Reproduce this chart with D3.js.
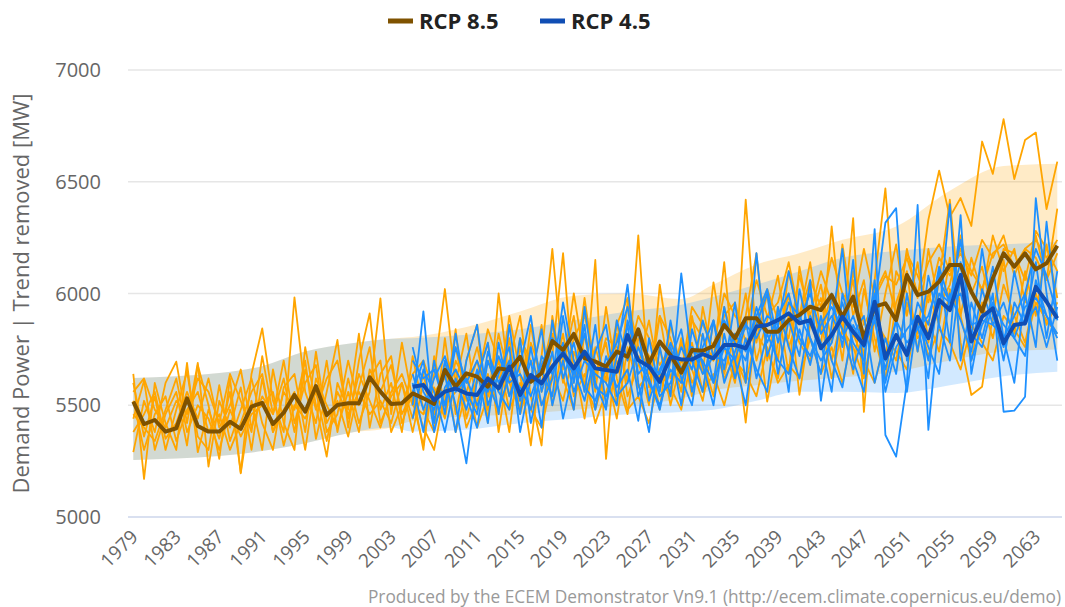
<!DOCTYPE html>
<html>
<head>
<meta charset="utf-8">
<script src="https://cdnjs.cloudflare.com/ajax/libs/d3/7.8.5/d3.min.js"></script>
<style>
  html, body { margin: 0; padding: 0; background: #fff; }
  #chart-area { width: 1065px; height: 607px; }
</style>
</head>
<body>
<div id="chart-area"></div>
<script>
const firstYear = 1979;
const lastYear = 2065;
const scenarioStart = 2005;

// ensemble mean, RCP 8.5 (historical part shared), 1979..2065
const meanRcp85 = [
  5516, 5416, 5434, 5382, 5397, 5531, 5407, 5382, 5382, 5426,
  5394, 5494, 5511, 5416, 5467, 5546, 5471, 5586, 5456, 5501,
  5509, 5509, 5625, 5561, 5506, 5509, 5553, 5531, 5506, 5658,
  5583, 5643, 5628, 5583, 5665, 5658, 5717, 5605, 5643, 5787,
  5747, 5819, 5711, 5695, 5673, 5740, 5717, 5840, 5687, 5785,
  5725, 5646, 5747, 5744, 5765, 5859, 5800, 5889, 5889, 5829,
  5829, 5881, 5904, 5941, 5926, 5993, 5896, 5986, 5800, 5941,
  5956, 5881, 6083, 5993, 6008, 6053, 6128, 6128, 6008, 5919,
  6068, 6180, 6120, 6180, 6108, 6135, 6214
];

// ensemble mean, RCP 4.5, 2005..2065
const meanRcp45 = [
  5583, 5591, 5523, 5561, 5575, 5553, 5546, 5620, 5576, 5673,
  5546, 5635, 5598, 5673, 5732, 5665, 5740, 5665, 5658, 5650,
  5814, 5702, 5673, 5605, 5717, 5705, 5705, 5729, 5710, 5770,
  5770, 5755, 5852, 5859, 5881, 5911, 5867, 5881, 5755, 5814,
  5896, 5829, 5770, 5963, 5710, 5814, 5725, 5896, 5800, 5971,
  5926, 6083, 5785, 5896, 5934, 5777, 5859, 5867, 6030, 5963,
  5889
];

// spread bands, sampled years
const bandYears   = [1979, 1983, 1987, 1991, 1995, 1999, 2003, 2005, 2010, 2015, 2020, 2025, 2030, 2033, 2037, 2041, 2045, 2050, 2055, 2060, 2065];
const rcp85Low    = [5255, 5262, 5273, 5295, 5330, 5375, 5400, 5430, 5450, 5460, 5480, 5500, 5530, 5568, 5590, 5610, 5625, 5650, 5700, 5740, 5750];
const rcp85High   = [5622, 5630, 5644, 5675, 5740, 5775, 5798, 5805, 5850, 5920, 5990, 6000, 5975, 6040, 6130, 6180, 6240, 6300, 6460, 6570, 6580];
const rcp45Low    = [5255, 5262, 5273, 5295, 5330, 5375, 5400, 5382, 5390, 5420, 5440, 5460, 5470, 5480, 5520, 5560, 5560, 5555, 5590, 5630, 5650];
const rcp45High   = [5622, 5630, 5644, 5675, 5740, 5775, 5798, 5800, 5815, 5840, 5880, 5920, 5950, 5986, 6040, 6100, 6160, 6190, 6210, 6220, 6230];

// ensemble members, historical + RCP 8.5, 1979..2065
const membersRcp85 = [
  [5640, 5170, 5600, 5420, 5300, 5690, 5290, 5480, 5350, 5560,
   5200, 5640, 5844, 5520, 5380, 5983, 5560, 5420, 5700, 5380,
   5620, 5420, 5560, 5978, 5460, 5780, 5520, 5320, 5640, 6020,
   5600, 5820, 5480, 5700, 5560, 5900, 5640, 5320, 5720, 6200,
   5680, 5900, 5560, 6150, 5260, 5820, 5600, 6260, 5580, 5900,
   5620, 5780, 5540, 5940, 5700, 6140, 5620, 6420, 5780, 6000,
   5700, 6100, 5880, 6020, 5760, 6300, 5820, 6337, 5470, 6060,
   6470, 5860, 6200, 5980, 6330, 6550, 6343, 6427, 6302, 6680,
   6535, 6780, 6512, 6687, 6720, 6378, 6590],
  [5290, 5520, 5380, 5600, 5695, 5420, 5690, 5225, 5520, 5400,
   5580, 5300, 5620, 5380, 5560, 5480, 5700, 5350, 5560, 5792,
   5400, 5700, 5911, 5480, 5600, 5380, 5720, 5480, 5380, 5800,
   5460, 5700, 5860, 5420, 6000, 5600, 5480, 5860, 5560, 5720,
   6180, 5600, 5980, 5640, 5780, 5500, 5960, 5700, 5500, 6040,
   5720, 5560, 5900, 5640, 6050, 5760, 5600, 5900, 6180, 5700,
   5940, 5640, 6120, 5860, 6040, 5780, 6220, 5900, 6060, 5740,
   6000, 6220, 5900, 6140, 5780, 6060, 6420, 5900, 6160, 6000,
   6260, 6100, 6200, 5960, 6260, 6060, 6380],
  [5440, 5610, 5300, 5460, 5560, 5320, 5680, 5500, 5260, 5620,
   5195, 5520, 5300, 5660, 5420, 5300, 5760, 5500, 5270, 5600,
   5480, 5820, 5400, 5640, 5720, 5420, 5560, 5300, 5720, 5500,
   5840, 5440, 5620, 5780, 5380, 5700, 5900, 5540, 5320, 5900,
   5620, 5480, 5820, 5560, 5940, 5620, 5460, 5800, 5720, 5480,
   5860, 5660, 5780, 5560, 5880, 5640, 5820, 5422, 5900, 5516,
   5780, 6000, 5546, 5860, 5980, 5700, 5900, 5640, 6020, 5800,
   5620, 5960, 6100, 5740, 6000, 5860, 6160, 5780, 5546, 5583,
   5900, 6150, 5820, 6100, 5900, 6220, 5980],
  [5600, 5360, 5540, 5300, 5480, 5650, 5360, 5300, 5590, 5340,
   5480, 5620, 5420, 5300, 5580, 5640, 5380, 5740, 5420, 5520,
   5360, 5580, 5760, 5420, 5540, 5600, 5380, 5600, 5460, 5680,
   5380, 5560, 5700, 5480, 5640, 5380, 5760, 5600, 5860, 5500,
   5780, 5700, 5440, 5760, 5600, 5880, 5540, 5680, 5880, 5620,
   5540, 5800, 5600, 5700, 5540, 5940, 5760, 6000, 5700, 5880,
   6080, 5760, 5900, 6140, 5820, 6000, 5700, 6100, 5860, 5960,
   5700, 6100, 6000, 5820, 6200, 5940, 6040, 6260, 6000, 6120,
   5900, 6200, 6180, 6060, 6280, 6200, 6100],
  [5380, 5460, 5560, 5350, 5420, 5560, 5440, 5620, 5400, 5500,
   5660, 5400, 5540, 5460, 5700, 5420, 5600, 5680, 5380, 5460,
   5700, 5500, 5620, 5700, 5380, 5500, 5640, 5700, 5560, 5620,
   5760, 5520, 5600, 5840, 5700, 5540, 5800, 5700, 5600, 5820,
   5660, 6000, 5700, 5620, 5800, 5760, 5700, 5900, 5800, 5680,
   5760, 5600, 5880, 5800, 5700, 5900, 5960, 5780, 5860, 6020,
   5880, 5800, 6080, 5900, 6100, 5960, 5880, 6060, 5720, 6000,
   6100, 5900, 6180, 6080, 5960, 6160, 6080, 6200, 6100, 6020,
   6180, 6220, 6120, 6200, 6160, 6060, 6180],
  [5520, 5300, 5460, 5540, 5340, 5480, 5560, 5380, 5460, 5300,
   5420, 5560, 5640, 5380, 5480, 5560, 5300, 5620, 5500, 5400,
   5560, 5380, 5660, 5560, 5680, 5460, 5560, 5400, 5300, 5560,
   5660, 5400, 5520, 5640, 5460, 5800, 5460, 5640, 5500, 5640,
   5520, 5740, 5600, 5480, 5660, 5440, 5760, 5580, 5640, 5760,
   5500, 5700, 5660, 5520, 5780, 5620, 5720, 5600, 5820, 5740,
   5620, 5900, 5780, 5700, 5880, 5620, 5840, 5760, 5620, 5880,
   5800, 5700, 5960, 5800, 5880, 5740, 6020, 5900, 5700, 5960,
   5800, 6040, 5900, 5780, 6000, 5860, 5960],
  [5460, 5400, 5340, 5480, 5620, 5380, 5500, 5440, 5300, 5480,
   5360, 5460, 5500, 5560, 5320, 5500, 5440, 5560, 5340, 5560,
   5460, 5560, 5460, 5520, 5420, 5600, 5440, 5640, 5420, 5500,
   5560, 5640, 5400, 5540, 5700, 5480, 5600, 5480, 5400, 5620,
   5820, 5540, 5640, 5420, 5560, 5700, 5480, 5540, 5420, 5640,
   5580, 5480, 5720, 5560, 5640, 5500, 5700, 5640, 5540, 5760,
   5600, 5680, 5620, 5800, 5640, 5760, 5600, 5820, 5700, 5600,
   5800, 5740, 5660, 5900, 5720, 5840, 5780, 5660, 5860, 5780,
   5700, 5900, 5840, 5760, 5960, 5880, 5820],
  [5560, 5620, 5480, 5400, 5520, 5460, 5620, 5560, 5420, 5640,
   5520, 5380, 5720, 5460, 5620, 5380, 5660, 5480, 5620, 5700,
   5440, 5640, 5520, 5400, 5560, 5640, 5500, 5460, 5580, 5440,
   5700, 5600, 5760, 5540, 5820, 5620, 5520, 5780, 5640, 5860,
   5600, 5800, 5900, 5700, 5620, 5860, 5980, 5760, 5660, 5900,
   5800, 5640, 5940, 5860, 5760, 6000, 5900, 5840, 6060, 5900,
   5960, 6140, 5900, 6060, 5940, 6160, 6000, 5940, 6200, 5980,
   6080, 6040, 6160, 6000, 6140, 6220, 6100, 6180, 6080, 6240,
   6160, 6260, 6080, 6200, 6240, 6160, 6240]
];

// ensemble members, RCP 4.5, 2005..2065
const membersRcp45 = [
  [5500, 5920, 5420, 5700, 5500, 5240, 5620, 5780, 5460, 5860,
   5520, 5700, 5400, 5880, 5620, 5780, 5560, 5860, 5500, 5720,
   6040, 5600, 5380, 5760, 5540, 6090, 5700, 5560, 5880, 5660,
   5960, 5600, 6180, 5720, 5860, 5560, 6020, 5800, 5640, 6000,
   5760, 6150, 5640, 6288, 5367, 5270, 5600, 6396, 5390, 5900,
   6400, 5700, 5960, 5800, 6000, 5471, 5476, 5538, 6427, 6000,
   5700],
  [5600, 5380, 5700, 5460, 5820, 5540, 5400, 5700, 5560, 5480,
   5800, 5420, 5660, 5540, 5900, 5600, 5860, 5480, 5720, 5580,
   5660, 5430, 5800, 5560, 5880, 5620, 5500, 5820, 5600, 5940,
   5700, 5500, 5860, 6000, 5640, 5880, 5720, 6060, 5520, 5860,
   6200, 5700, 5560, 5940, 6317, 6382, 5700, 5860, 5620, 6100,
   5780, 6351, 5640, 5900, 6120, 5800, 5600, 6000, 5760, 6321,
   5880],
  [5760, 5560, 5480, 5640, 5380, 5700, 5860, 5500, 5640, 5760,
   5380, 5620, 5840, 5500, 5700, 5480, 5940, 5600, 5480, 5880,
   5700, 5840, 5520, 5660, 5760, 5500, 5840, 5680, 5500, 5820,
   5620, 5800, 5660, 5560, 5940, 5760, 5620, 5900, 5780, 5560,
   6000, 5820, 5900, 5600, 5800, 5640, 6000, 5740, 6080, 5860,
   5700, 6080, 5800, 6200, 5900, 5760, 6100, 5880, 6140, 5800,
   6100],
  [5440, 5660, 5560, 5380, 5620, 5480, 5660, 5420, 5780, 5540,
   5680, 5900, 5560, 5740, 5440, 5660, 5520, 5740, 5860, 5540,
   5600, 5760, 5620, 5480, 5700, 5840, 5560, 5760, 5880, 5600,
   5740, 5880, 5620, 5820, 5700, 5640, 5840, 5680, 5900, 5700,
   5580, 5860, 5760, 6000, 5700, 5880, 5560, 5900, 5760, 5640,
   6000, 5880, 5740, 6020, 5860, 5960, 5800, 5720, 6060, 5900,
   5820],
  [5640, 5480, 5620, 5720, 5560, 5620, 5500, 5600, 5480, 5640,
   5580, 5480, 5720, 5640, 5780, 5560, 5700, 5640, 5600, 5500,
   5880, 5700, 5600, 5500, 5660, 5600, 5760, 5640, 5720, 5880,
   5780, 5700, 5940, 5780, 5900, 6000, 5800, 5720, 5860, 5940,
   5840, 5660, 5820, 5900, 5560, 5760, 5840, 5900, 5700, 6000,
   5960, 6140, 5700, 5860, 5940, 5700, 5960, 5860, 5940, 5760,
   5940],
  [5560, 5700, 5380, 5580, 5660, 5560, 5460, 5740, 5600, 5700,
   5460, 5760, 5500, 5620, 5960, 5700, 5580, 5520, 5680, 5780,
   5940, 5640, 5700, 5540, 5600, 5760, 5660, 5880, 5720, 5700,
   5820, 5740, 5900, 6020, 5780, 5960, 5900, 5800, 5700, 5780,
   5960, 5780, 5700, 6060, 5600, 5820, 5720, 5960, 5860, 6120,
   5960, 6240, 5860, 5880, 5860, 5800, 5900, 6000, 6200, 6080,
   5900],
  [5700, 5620, 5660, 5500, 5760, 5600, 5700, 5560, 5720, 5600,
   5640, 5540, 5680, 5800, 5720, 5640, 5820, 5580, 5540, 5660,
   5860, 5540, 5680, 5640, 5780, 5660, 5760, 5700, 5600, 5760,
   5700, 5860, 5800, 5900, 5860, 6100, 5880, 6000, 5820, 5900,
   5800, 5900, 5760, 5880, 5660, 5880, 5780, 5840, 5900, 6060,
   5960, 6000, 5820, 5760, 5960, 5860, 5800, 5940, 5980, 5900,
   5800]
];

const yTicks = [5000, 5500, 6000, 6500, 7000];
const xTickYears = d3.range(firstYear, lastYear, 4);

const svgWidth = 1065, svgHeight = 607;
const plotLeft = 128, plotRight = 1062, plotTop = 70, plotBottom = 517;

const svg = d3.select("#chart-area")
  .append("svg")
    .attr("width", svgWidth)
    .attr("height", svgHeight)
    .style("font-family", "'Open Sans', sans-serif");

const x = d3.scaleLinear().domain([firstYear, lastYear]).range([133.3, 1057.3]);
const y = d3.scaleLinear().domain([5000, 7000]).range([plotBottom, plotTop]);

// grid
svg.append("g")
  .selectAll("line")
  .data(yTicks.slice(1))
  .join("line")
    .attr("x1", plotLeft).attr("x2", plotRight)
    .attr("y1", d => y(d)).attr("y2", d => y(d))
    .attr("stroke", "#e6e6e6")
    .attr("stroke-width", 1.5);

svg.append("line")
  .attr("x1", plotLeft).attr("x2", plotRight)
  .attr("y1", y(5000)).attr("y2", y(5000))
  .attr("stroke", "#ccd6eb")
  .attr("stroke-width", 1.5);

// y axis labels
svg.append("g")
  .selectAll("text")
  .data(yTicks)
  .join("text")
    .attr("x", 101)
    .attr("y", d => y(d) + 7)
    .attr("text-anchor", "end")
    .attr("font-size", 20)
    .attr("fill", "#666")
    .text(d => d);

svg.append("text")
  .attr("transform", `translate(29,${(plotTop + plotBottom) / 2}) rotate(-90)`)
  .attr("text-anchor", "middle")
  .attr("font-size", 22)
  .attr("fill", "#666")
  .text("Demand Power | Trend removed [MW]");

// x axis labels
svg.append("g")
  .selectAll("text")
  .data(xTickYears)
  .join("text")
    .attr("transform", d => `translate(${x(d) + 6},${538}) rotate(-45)`)
    .attr("text-anchor", "end")
    .attr("font-size", 19)
    .attr("fill", "#666")
    .text(d => d);

// bands
const band = (years, lo, hi) => years.map((yr, i) => ({ yr, lo: lo[i], hi: hi[i] }));
const area = d3.area()
  .x(d => x(d.yr))
  .y0(d => y(d.lo))
  .y1(d => y(d.hi))
  .curve(d3.curveMonotoneX);

svg.append("path")
  .datum(band(bandYears, rcp85Low, rcp85High))
  .attr("d", area)
  .attr("fill", "#ffa500")
  .attr("fill-opacity", 0.22);

svg.append("path")
  .datum(band(bandYears, rcp45Low, rcp45High))
  .attr("d", area)
  .attr("fill", "#1e90ff")
  .attr("fill-opacity", 0.2);

// lines
const line = d3.line().x(d => x(d[0])).y(d => y(d[1]));
const toPoints = (values, start) => values.map((v, i) => [start + i, v]);

svg.append("g")
  .selectAll("path")
  .data(membersRcp85)
  .join("path")
    .attr("d", d => line(toPoints(d, firstYear)))
    .attr("fill", "none")
    .attr("stroke", "#ffa500")
    .attr("stroke-width", 1.8)
    .attr("stroke-linejoin", "round");

svg.append("g")
  .selectAll("path")
  .data(membersRcp45)
  .join("path")
    .attr("d", d => line(toPoints(d, scenarioStart)))
    .attr("fill", "none")
    .attr("stroke", "#1e90ff")
    .attr("stroke-width", 1.8)
    .attr("stroke-linejoin", "round");

svg.append("path")
  .attr("d", line(toPoints(meanRcp85, firstYear)))
  .attr("fill", "none")
  .attr("stroke", "#7f5200")
  .attr("stroke-width", 4)
  .attr("stroke-linejoin", "round");

svg.append("path")
  .attr("d", line(toPoints(meanRcp45, scenarioStart)))
  .attr("fill", "none")
  .attr("stroke", "#104eb4")
  .attr("stroke-width", 4)
  .attr("stroke-linejoin", "round");

// legend
const legendItems = [
  { name: "RCP 8.5", color: "#7f5200", x: 388 },
  { name: "RCP 4.5", color: "#104eb4", x: 540 }
];
const legend = svg.append("g")
  .selectAll("g")
  .data(legendItems)
  .join("g")
    .attr("transform", d => `translate(${d.x},21)`);
legend.append("rect")
  .attr("x", 0).attr("y", -2.5)
  .attr("width", 25).attr("height", 5)
  .attr("fill", d => d.color);
legend.append("text")
  .attr("x", 31)
  .attr("y", 8)
  .attr("font-size", 22)
  .attr("font-weight", "bold")
  .attr("fill", "#222")
  .text(d => d.name);

// credits
svg.append("text")
  .attr("x", 1061)
  .attr("y", 603)
  .attr("text-anchor", "end")
  .attr("font-size", 17.3)
  .attr("fill", "#999")
  .text("Produced by the ECEM Demonstrator Vn9.1 (http://ecem.climate.copernicus.eu/demo)");
</script>
</body>
</html>
